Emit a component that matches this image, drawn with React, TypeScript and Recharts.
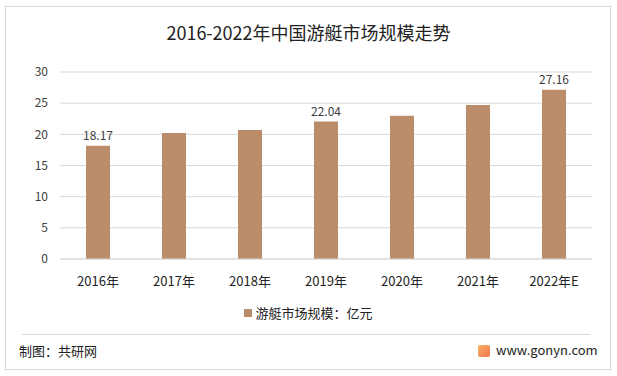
import { BarChart, Bar, XAxis, YAxis, CartesianGrid, LabelList } from 'recharts';

const years = ['2016年', '2017年', '2018年', '2019年', '2020年', '2021年', '2022年E'];
const marketSize = [18.17, 20.2, 20.7, 22.04, 23.0, 24.7, 27.16];
const shownLabels = ['18.17', '', '', '22.04', '', '', '27.16'];
const yTicks = [0, 5, 10, 15, 20, 25, 30];

const data = years.map((year, i) => ({
    year,
    value: marketSize[i],
    label: shownLabels[i],
}));

const font = '"Noto Sans CJK SC", "Noto Sans", sans-serif';
const barColor = '#BA8C6A';

export default function App() {
    return (
        <div style={{ position: 'absolute', left: 0, top: 0, width: 617, height: 376, background: '#fff', fontFamily: font }}>
            <div style={{ position: 'absolute', left: 5, top: 6, width: 604, height: 362, border: '1px solid #d9d9d9' }} />
            <div style={{ position: 'absolute', left: 0, top: 19, width: 617, textAlign: 'center', fontSize: 18, color: '#222' }}>
                2016-2022年中国游艇市场规模走势
            </div>
            <div style={{ position: 'absolute', left: 0, top: 0 }}>
                <BarChart width={617} height={330} data={data} margin={{ top: 72, right: 25, bottom: 41, left: 0 }}>
                    <CartesianGrid vertical={false} stroke="#d9d9d9" />
                    <XAxis
                        dataKey="year"
                        axisLine={{ stroke: '#d9d9d9' }}
                        tickLine={false}
                        tickSize={0}
                        tickMargin={18}
                        tick={{ fill: '#222', fontSize: 13, fontFamily: font }}
                        interval={0}
                    />
                    <YAxis
                        width={60}
                        domain={[0, 30]}
                        ticks={yTicks}
                        axisLine={false}
                        tickLine={false}
                        tickSize={0}
                        tickMargin={12}
                        tick={{ fill: '#404040', fontSize: 12, fontFamily: font }}
                    />
                    <Bar dataKey="value" fill={barColor} barSize={24} isAnimationActive={false}>
                        <LabelList dataKey="label" position="top" offset={6} fill="#404040" fontSize={12} fontFamily={font} />
                    </Bar>
                </BarChart>
            </div>
            <div style={{ position: 'absolute', left: 0, top: 303, width: 617, display: 'flex', justifyContent: 'center', alignItems: 'center', fontSize: 13, color: '#222' }}>
                <span style={{ width: 8, height: 8, background: barColor, display: 'inline-block', marginRight: 3 }} />
                游艇市场规模：亿元
            </div>
            <div style={{ position: 'absolute', left: 22, top: 334, width: 568, height: 1, background: '#d9d9d9' }} />
            <div style={{ position: 'absolute', left: 19, top: 341, fontSize: 13, color: '#222' }}>制图：共研网</div>
            <div style={{ position: 'absolute', left: 478, top: 345, width: 12, height: 12, borderRadius: 2, background: 'linear-gradient(135deg, #f7b267, #f2784b)' }} />
            <div style={{ position: 'absolute', left: 496, top: 340, fontSize: 13, color: '#222' }}>www.gonyn.com</div>
        </div>
    );
}
